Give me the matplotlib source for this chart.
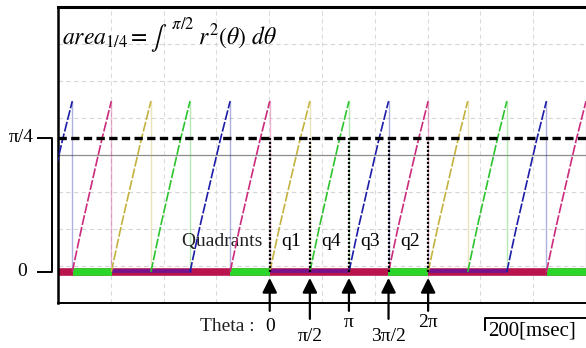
import numpy as np
import matplotlib.pyplot as plt

plt.rcParams['font.family'] = ['Liberation Serif', 'DejaVu Serif']
plt.rcParams['mathtext.fontset'] = 'stix'

# ramp edges in msec (each ramp runs from one edge to the next), colours cycle
ramp_edges = [-48, 27, 101, 176, 250, 326, 401, 477, 551, 626, 701, 776, 850, 925, 1000]
ramp_colors = ['#1c1ca8', '#cc2a7c', '#c4b23e', '#2cc42c']
# shape of one ramp (fraction of duration -> value)
ramp_frac = [0.0, 0.25, 0.5, 0.75, 1.0]
ramp_val = [0.0, 0.27, 0.52, 0.77, 1.0]

# colour of the idle (zero) level between ramps
base_edges = [0, 28, 102, 254, 326, 401, 551, 625, 701, 850, 926, 1000]
base_kind = ['c', 'g', 'p', 'c', 'g', 'p', 'c', 'g', 'p', 'c', 'g']

theta_pos = [401, 477, 551, 626, 701]
theta_labels = ['0', 'π/2', 'π', '3π/2', '2π']
quad_labels = ['q1', 'q4', 'q3', 'q2']

quarter = np.pi / 4
ylo, yhi = -0.182, 1.552

fig = plt.figure(figsize=(5.86, 3.48), dpi=100)
ax = fig.add_axes([58 / 586, 45 / 348, 528 / 586, 296 / 348])
ax.set_xlim(0, 1000)
ax.set_ylim(ylo, yhi)
ax.set_xticks([])
ax.set_yticks([])
ax.spines['right'].set_visible(False)
ax.spines['top'].set_linewidth(2.2)
ax.spines['left'].set_linewidth(1.8)
ax.spines['bottom'].set_linewidth(1.4)

# scope graticule
for x in range(100, 1000, 100):
    ax.axvline(x, color='#dcdcdc', lw=0.8, ls=(0, (4, 3)), zorder=0)
for i, y in enumerate(np.linspace(ylo, yhi, 9)[1:-1]):
    if i == 3:
        ax.axhline(y, color='#8c8c8c', lw=0.9, zorder=0)
    else:
        ax.axhline(y, color='#d6d6d6', lw=0.8, ls=(0, (4, 3)), zorder=0)

# zero level band
base_col = {'c': '#b8144e', 'g': '#2ad62a', 'p': '#78128a'}
ax.plot([0, 1000], [0, 0], color=base_col['c'], lw=5.5, solid_capstyle='butt', zorder=2)
for k, kind in enumerate(base_kind):
    seg = [base_edges[k], base_edges[k + 1]]
    if kind == 'g':
        ax.plot(seg, [0, 0], color=base_col['g'], lw=5.5, solid_capstyle='butt', zorder=3)
    elif kind == 'p':
        ax.plot(seg, [0.008, 0.008], color=base_col['p'], lw=2.8, solid_capstyle='butt', zorder=3)

# ramps and their drop lines
for k in range(len(ramp_edges) - 1):
    t0, t1 = ramp_edges[k], ramp_edges[k + 1]
    c = ramp_colors[k % 4]
    tx = [t0 + f * (t1 - t0) for f in ramp_frac]
    ax.plot(tx, ramp_val, color=c, lw=1.2, ls=(0, (6, 1.2)), zorder=4)
    ax.plot([t1, t1], [0, ramp_val[-1]], color=c, lw=1.0, alpha=0.35, zorder=1)

# pi/4 level and markers
ax.axhline(quarter, color='black', lw=2.4, ls=(0, (2.5, 1.3)), zorder=5)
for x in theta_pos:
    ax.plot([x, x], [0, quarter], color='black', lw=1.6, ls=(0, (1, 0.8)), zorder=5)

# y scale bracket
ax.plot([-38, -11, -11, -38], [quarter, quarter, 0, 0], color='black', lw=1.4, clip_on=False)
ax.text(-46, quarter, 'π/4', fontsize=14, ha='right', va='center')
ax.text(-58, 0, '0', fontsize=14, ha='right', va='center')

# title formula
ax.text(8, 1.39, r'$\mathit{area}_{1/4}=\int^{\ \pi/2}\ \mathit{r}^2(\theta)\ \mathit{d}\theta$',
        fontsize=17, ha='left', va='center')

# quadrant labels
ax.text(407, 0.18, 'Quadrants :', fontsize=14, ha='right', va='center', color='#222222')
for k, q in enumerate(quad_labels):
    ax.text((theta_pos[k] + theta_pos[k + 1]) / 2 + 3, 0.18, q, fontsize=14,
            ha='center', va='center')

# theta arrows
for k, (x, lab) in enumerate(zip(theta_pos, theta_labels)):
    low = k % 2 == 1
    tail = -0.275 if low else -0.228
    ax.annotate('', xy=(x, -0.035), xytext=(x, tail), annotation_clip=False,
                arrowprops=dict(arrowstyle='-|>', color='black', lw=1.6,
                                mutation_scale=22, shrinkA=0, shrinkB=0))
    ly = -0.378 if low else (-0.322 if k == 0 else -0.296)
    ax.text(x, ly, lab, fontsize=14, ha='center', va='center', clip_on=False)
ax.text(372, -0.322, 'Theta :', fontsize=14, ha='right', va='center', color='#222222')

# time scale bar
ax.plot([808, 808, 1010], [-0.340, -0.269, -0.269], color='black', lw=1.4, clip_on=False)
ax.text(814, -0.345, '200[msec]', fontsize=15, ha='left', va='center', clip_on=False)

fig.savefig('out.png', dpi=100)
